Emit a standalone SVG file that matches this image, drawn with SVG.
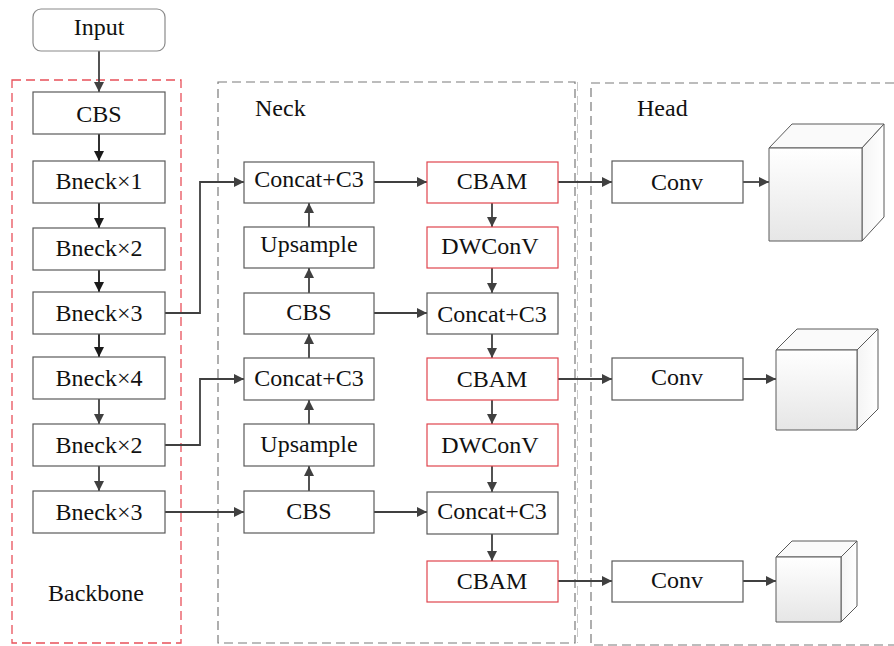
<svg xmlns="http://www.w3.org/2000/svg" width="894" height="646" viewBox="0 0 894 646">
  <defs>
    <marker id="arr" viewBox="0 0 10 10" refX="10" refY="5" markerWidth="10" markerHeight="10" markerUnits="userSpaceOnUse" orient="auto">
      <path d="M0,0 L10,5 L0,10 z" fill="#404040"/>
    </marker>
    <marker id="arrB" viewBox="0 0 10 10" refX="10" refY="5" markerWidth="10" markerHeight="10" markerUnits="userSpaceOnUse" orient="auto">
      <path d="M0,0 L10,5 L0,10 z" fill="#1a1a1a"/>
    </marker>
    <linearGradient id="face" x1="0" y1="0" x2="0" y2="1">
      <stop offset="0" stop-color="#ffffff"/>
      <stop offset="1" stop-color="#e6e6e6"/>
    </linearGradient>
    <linearGradient id="side" x1="0" y1="0" x2="1" y2="0">
      <stop offset="0" stop-color="#f4f4f4"/>
      <stop offset="1" stop-color="#ffffff"/>
    </linearGradient>
  </defs>
  <style>
    text { font-family: "Liberation Serif", "Times New Roman", serif; font-size: 24px; fill: #111; text-anchor: middle; }
    .lbl { text-anchor: start; }
    .box { fill: #fff; stroke: #5a5a5a; stroke-width: 1.2; }
    .rbox { fill: #fff; stroke: #e0454e; stroke-width: 1.2; }
    .reg-red { fill: none; stroke: #e8505a; stroke-width: 1.3; stroke-dasharray: 9 5; }
    .reg-gray { fill: none; stroke: #7a7a7a; stroke-width: 1.2; stroke-dasharray: 9 5; }
    .cn { fill: none; stroke: #404040; stroke-width: 1.8; marker-end: url(#arr); }
    .cnb { fill: none; stroke: #1a1a1a; stroke-width: 1.8; marker-end: url(#arrB); }
    .cube { stroke: #5a5a5a; stroke-width: 1; stroke-linejoin: round; }
  </style>

  <rect width="894" height="646" fill="#fff"/>

  <!-- regions -->
  <g id="regions">
    <rect class="reg-red" x="12" y="80" width="169" height="563"/>
    <rect class="reg-gray" x="218" y="82" width="357" height="561"/>
    <line x1="577.5" y1="82" x2="577.5" y2="643" stroke="#c8c8c8" stroke-width="1" stroke-dasharray="9 5"/>
    <rect class="reg-gray" x="591" y="83" width="320" height="562"/>
    <text class="lbl" x="48" y="601">Backbone</text>
    <text class="lbl" x="255" y="116">Neck</text>
    <text class="lbl" x="637" y="116">Head</text>
  </g>

  <!-- connectors -->
  <g id="connectors">
    <path class="cn" d="M99,51 V92"/>
    <path class="cnb" d="M99,134 V161"/>
    <path class="cnb" d="M99,203 V228"/>
    <path class="cnb" d="M99,270 V292"/>
    <path class="cnb" d="M99,334 V357"/>
    <path class="cn" d="M99,399 V424"/>
    <path class="cn" d="M99,466 V491"/>

    <path class="cn" d="M165,313 H200 V182 H244"/>
    <path class="cn" d="M165,445 H200 V379 H244"/>
    <path class="cn" d="M165,512 H244"/>

    <path class="cn" d="M309,491 V466"/>
    <path class="cn" d="M309,424 V400"/>
    <path class="cn" d="M309,358 V334"/>
    <path class="cn" d="M309,293 V268"/>
    <path class="cn" d="M309,227 V203"/>

    <path class="cn" d="M374,182 H427"/>
    <path class="cn" d="M374,313 H427"/>
    <path class="cn" d="M374,512 H427"/>

    <path class="cn" d="M492,203 V227"/>
    <path class="cn" d="M492,268 V293"/>
    <path class="cn" d="M492,334 V358"/>
    <path class="cn" d="M492,400 V424"/>
    <path class="cn" d="M492,466 V492"/>
    <path class="cn" d="M492,534 V561"/>

    <path class="cn" d="M558,182 H612"/>
    <path class="cn" d="M558,379 H612"/>
    <path class="cn" d="M558,581 H612"/>

    <path class="cn" d="M743,182 H769"/>
    <path class="cn" d="M743,379 H776"/>
    <path class="cn" d="M743,581 H776"/>
  </g>

  <!-- input -->
  <g id="input">
    <rect x="33" y="9" width="132" height="42" rx="8" fill="#fff" stroke="#8a8a8a" stroke-width="1.2"/>
    <text x="99" y="35">Input</text>
  </g>

  <!-- backbone -->
  <g id="bb-cbs"><rect class="box" x="33" y="92" width="132" height="42"/><text x="99" y="122">CBS</text></g>
  <g id="bb-bneck1"><rect class="box" x="33" y="161" width="132" height="42"/><text x="99" y="189">Bneck×1</text></g>
  <g id="bb-bneck2a"><rect class="box" x="33" y="228" width="132" height="42"/><text x="99" y="256">Bneck×2</text></g>
  <g id="bb-bneck3a"><rect class="box" x="33" y="292" width="132" height="42"/><text x="99" y="321">Bneck×3</text></g>
  <g id="bb-bneck4"><rect class="box" x="33" y="357" width="132" height="42"/><text x="99" y="386">Bneck×4</text></g>
  <g id="bb-bneck2b"><rect class="box" x="33" y="424" width="132" height="42"/><text x="99" y="453">Bneck×2</text></g>
  <g id="bb-bneck3b"><rect class="box" x="33" y="491" width="132" height="42"/><text x="99" y="520">Bneck×3</text></g>

  <!-- neck, upward path -->
  <g id="nk-concat1"><rect class="box" x="244" y="162" width="130" height="41"/><text x="309" y="187">Concat+C3</text></g>
  <g id="nk-up1"><rect class="box" x="244" y="227" width="130" height="41"/><text x="309" y="252">Upsample</text></g>
  <g id="nk-cbs1"><rect class="box" x="244" y="293" width="130" height="41"/><text x="309" y="320">CBS</text></g>
  <g id="nk-concat2"><rect class="box" x="244" y="358" width="130" height="42"/><text x="309" y="386">Concat+C3</text></g>
  <g id="nk-up2"><rect class="box" x="244" y="424" width="130" height="42"/><text x="309" y="452">Upsample</text></g>
  <g id="nk-cbs2"><rect class="box" x="244" y="491" width="130" height="42"/><text x="309" y="519">CBS</text></g>

  <!-- neck, downward path -->
  <g id="nk-cbam1"><rect class="rbox" x="427" y="162" width="131" height="41"/><text x="492" y="189">CBAM</text></g>
  <g id="nk-dw1"><rect class="rbox" x="427" y="227" width="131" height="41"/><text x="490" y="254">DWConV</text></g>
  <g id="nk-concat3"><rect class="box" x="427" y="293" width="131" height="41"/><text x="492" y="322">Concat+C3</text></g>
  <g id="nk-cbam2"><rect class="rbox" x="427" y="358" width="131" height="42"/><text x="492" y="387">CBAM</text></g>
  <g id="nk-dw2"><rect class="rbox" x="427" y="424" width="131" height="42"/><text x="490" y="453">DWConV</text></g>
  <g id="nk-concat4"><rect class="box" x="427" y="492" width="131" height="42"/><text x="492" y="519">Concat+C3</text></g>
  <g id="nk-cbam3"><rect class="rbox" x="427" y="561" width="131" height="41"/><text x="492" y="589">CBAM</text></g>

  <!-- head -->
  <g id="hd-conv1"><rect class="box" x="612" y="161" width="131" height="42"/><text x="677" y="190">Conv</text></g>
  <g id="hd-conv2"><rect class="box" x="612" y="358" width="131" height="42"/><text x="677" y="385">Conv</text></g>
  <g id="hd-conv3"><rect class="box" x="612" y="561" width="131" height="41"/><text x="677" y="588">Conv</text></g>

  <!-- output cubes -->
  <g id="cube1">
    <path class="cube" fill="#fafafa" d="M769,148 L792,124 L884,124 L862,148 z"/>
    <path class="cube" fill="url(#side)" d="M862,148 L884,124 L884,217 L862,241 z"/>
    <rect class="cube" fill="url(#face)" x="769" y="148" width="93" height="93"/>
  </g>
  <g id="cube2">
    <path class="cube" fill="#fafafa" d="M776,350 L797,329 L878,329 L857,350 z"/>
    <path class="cube" fill="url(#side)" d="M857,350 L878,329 L878,409 L857,430 z"/>
    <rect class="cube" fill="url(#face)" x="776" y="350" width="81" height="80"/>
  </g>
  <g id="cube3">
    <path class="cube" fill="#fafafa" d="M776,557 L792,541 L857,541 L841,557 z"/>
    <path class="cube" fill="url(#side)" d="M841,557 L857,541 L857,606 L841,622 z"/>
    <rect class="cube" fill="url(#face)" x="776" y="557" width="65" height="65"/>
  </g>
</svg>
